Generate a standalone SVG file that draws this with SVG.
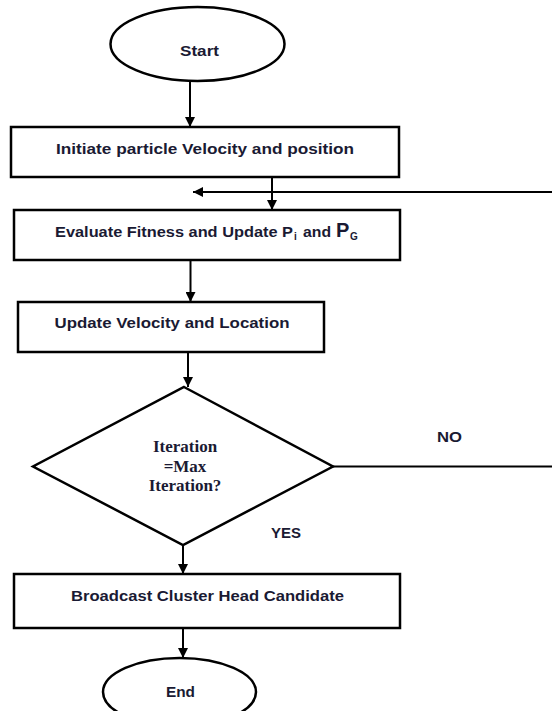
<svg xmlns="http://www.w3.org/2000/svg" width="552" height="711" viewBox="0 0 552 711">
<style>
.shape{fill:#fff;stroke:#000;stroke-width:2.5}
.conn{fill:none;stroke:#000;stroke-width:2}
.lbl{font-family:"Liberation Sans",Arial,sans-serif;font-weight:bold;font-size:15px;fill:#1a1a33;text-anchor:middle}
.ser{font-family:"Liberation Serif","Times New Roman",serif;font-weight:bold;font-size:17px;fill:#1a1a33;text-anchor:middle}
</style>
<defs>
<marker id="ah" markerWidth="10" markerHeight="10" refX="10" refY="5" orient="auto" markerUnits="userSpaceOnUse">
<path d="M0,0 L10,5 L0,10 Z" fill="#000"/>
</marker>
</defs>
<rect width="552" height="711" fill="#fff"/>
<g id="connectors">
<line class="conn" x1="190" y1="81" x2="190" y2="127" marker-end="url(#ah)"/>
<line class="conn" x1="272" y1="177" x2="272" y2="210" marker-end="url(#ah)"/>
<line class="conn" x1="552" y1="192" x2="193" y2="192" marker-end="url(#ah)"/>
<line class="conn" x1="190.5" y1="260" x2="190.5" y2="302" marker-end="url(#ah)"/>
<line class="conn" x1="188" y1="352" x2="188" y2="387" marker-end="url(#ah)"/>
<line class="conn" x1="333" y1="466.5" x2="552" y2="466.5"/>
<line class="conn" x1="183" y1="545" x2="183" y2="574" marker-end="url(#ah)"/>
<line class="conn" x1="183" y1="628" x2="183" y2="658" marker-end="url(#ah)"/>
</g>
<g id="start">
<ellipse class="shape" cx="197.5" cy="44" rx="87" ry="37"/>
<text class="lbl" x="199.5" y="56" textLength="39" lengthAdjust="spacingAndGlyphs">Start</text>
</g>
<g id="init">
<rect class="shape" x="11" y="127" width="388" height="50"/>
<text class="lbl" x="205" y="154" textLength="298" lengthAdjust="spacingAndGlyphs">Initiate particle Velocity and position</text>
</g>
<g id="evaluate">
<rect class="shape" x="14" y="210" width="386" height="50"/>
<text class="lbl" y="237" style="text-anchor:start"><tspan x="55" textLength="238" lengthAdjust="spacingAndGlyphs">Evaluate Fitness and Update P</tspan><tspan x="294" dy="3" font-size="10">i</tspan><tspan x="303" dy="-3" textLength="28" lengthAdjust="spacingAndGlyphs">and</tspan><tspan x="336" font-size="20">P</tspan><tspan x="350" dy="3" font-size="10">G</tspan></text>
</g>
<g id="update">
<rect class="shape" x="18" y="302" width="306" height="50"/>
<text class="lbl" x="172" y="328" textLength="235" lengthAdjust="spacingAndGlyphs">Update Velocity and Location</text>
</g>
<g id="decision">
<polygon class="shape" points="184,387 333,466.5 183,545 33,466.5"/>
<text class="ser" x="185" y="452">Iteration</text>
<text class="ser" x="185" y="472">=Max</text>
<text class="ser" x="185" y="491">Iteration?</text>
</g>
<g id="labels">
<text class="lbl" x="449.5" y="442" textLength="25" lengthAdjust="spacingAndGlyphs">NO</text>
<text class="lbl" x="286" y="538" textLength="30" lengthAdjust="spacingAndGlyphs">YES</text>
</g>
<g id="broadcast">
<rect class="shape" x="14" y="574" width="386" height="54"/>
<text class="lbl" x="207.5" y="601" textLength="273" lengthAdjust="spacingAndGlyphs">Broadcast Cluster Head Candidate</text>
</g>
<g id="end">
<ellipse class="shape" cx="179.5" cy="692" rx="76.5" ry="34"/>
<text class="lbl" x="180.5" y="697" textLength="29" lengthAdjust="spacingAndGlyphs">End</text>
</g>
</svg>
